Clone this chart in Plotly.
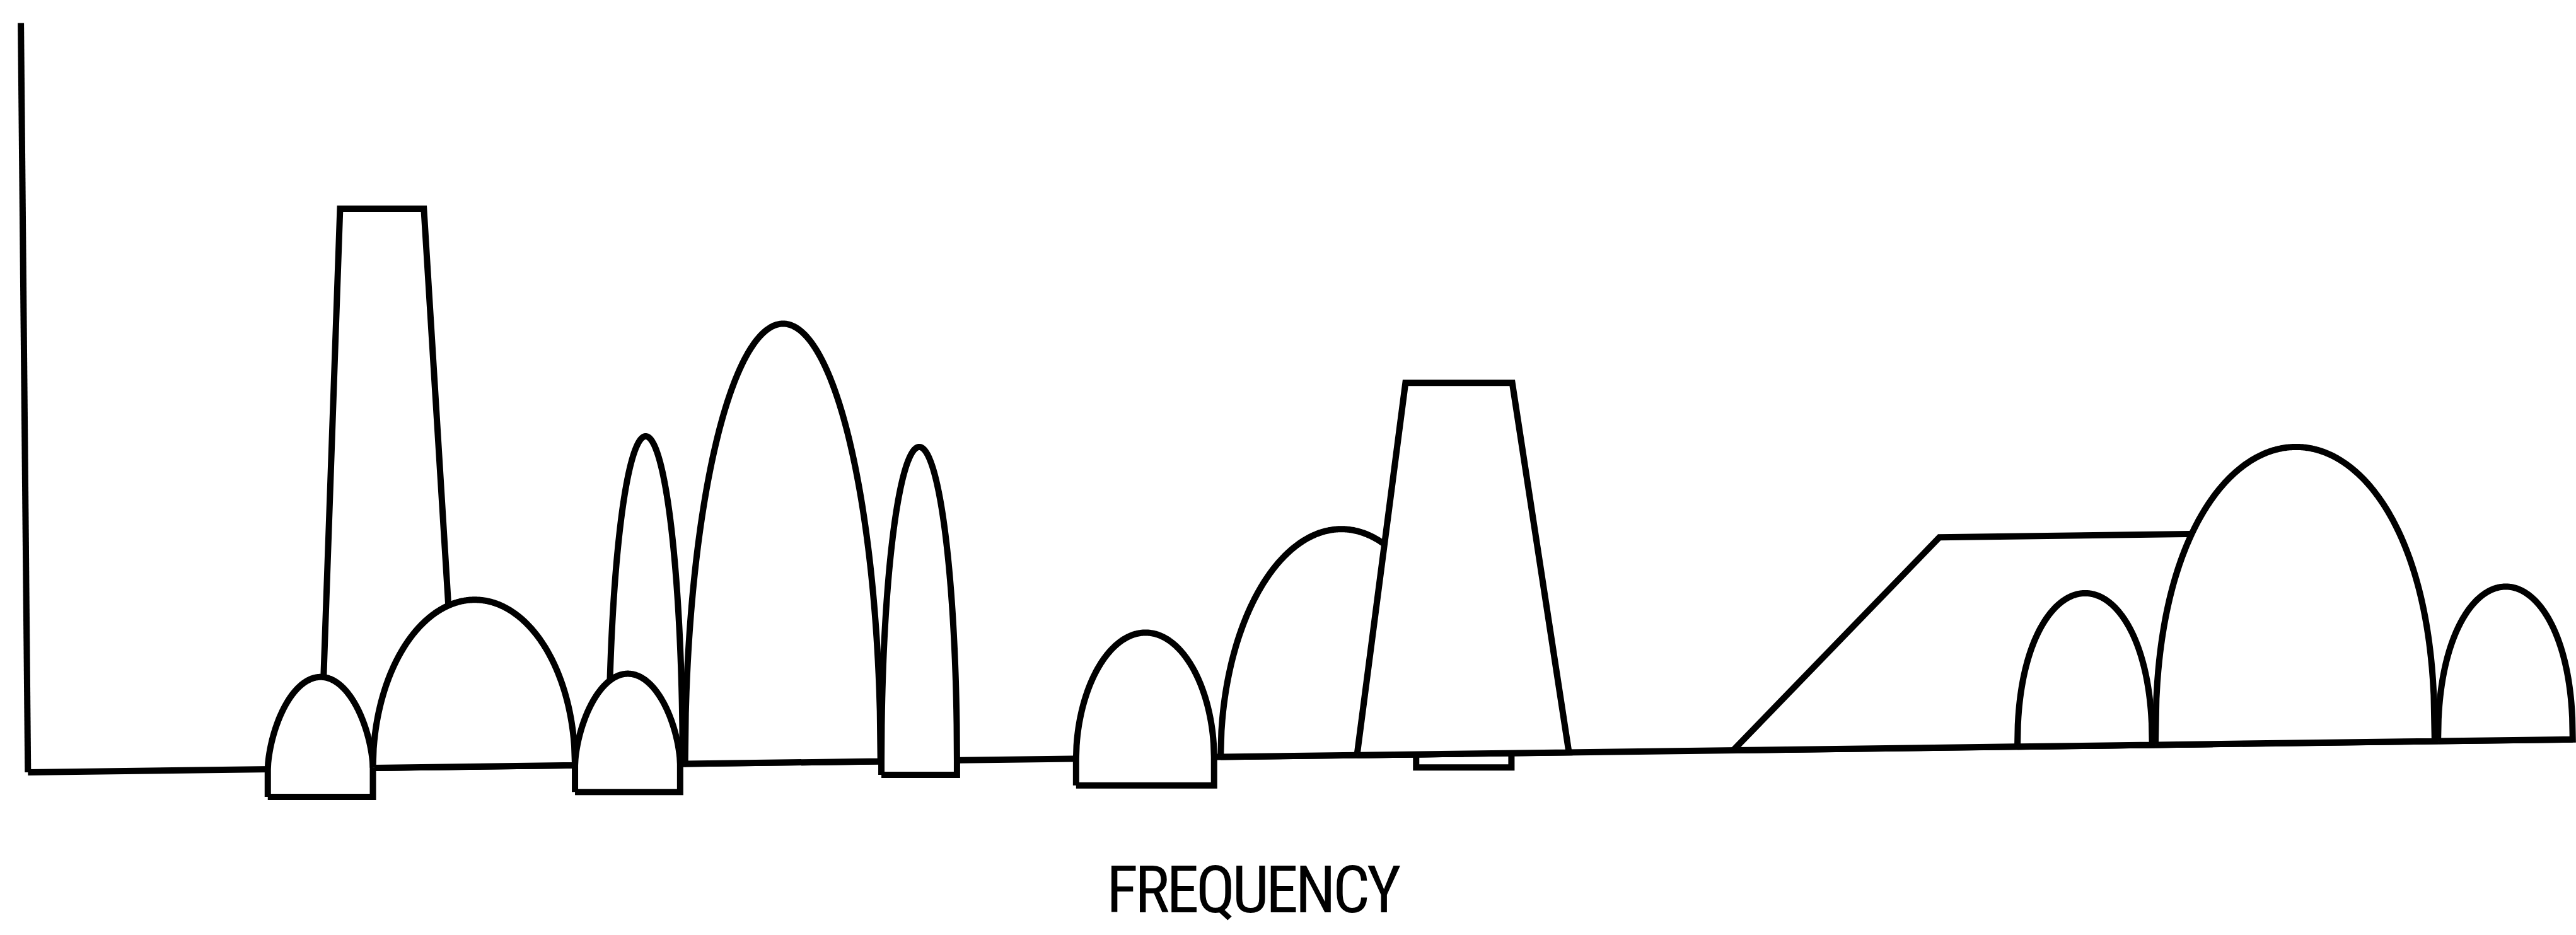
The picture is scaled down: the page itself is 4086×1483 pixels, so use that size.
import numpy as np
import plotly.graph_objects as go

# ---------------- data (frequency units, level units; level measured upward) ----------------
# vertical (level) axis line
axis_freq = [12.7, 17.0]
axis_level = [555.0, 99.0]

# sloping spectrum baseline (noise floor)
floor_freq = [17.0, 1566.0]
floor_level = [99.0, 119.0]

# arch-shaped carriers: left edge, right edge, peak level, bottom of box below floor (None = sits on floor),
# roundness exponent of the dome
arch_left = [163, 227, 350, 370.5, 417, 536.5, 655, 743, 1228, 1312, 1484]
arch_right = [227, 350, 414, 415.5, 536, 582.5, 739, 889, 1310, 1482, 1566]
arch_peak = [157, 204, 159, 303.5, 372, 297, 184, 247, 208, 297, 212]
arch_box_bottom = [84, None, 87, None, None, 97.5, 91, None, None, None, None]
arch_round = [0.62, 0.5, 0.62, 0.5, 0.5, 0.5, 0.52, 0.5, 0.45, 0.43, 0.45]

# trapezoid bands: [foot left, top left, top right, foot right], top level
trap1_freq = [195.0, 207.0, 258.0, 279.0]
trap1_top = 442.0
trap2_freq = [826.0, 855.5, 920.5, 955.0]
trap2_top = 336.0

# small notch below the floor under trapezoid 2
notch_freq = [862.0, 920.0]
notch_bottom = 102.0

# ramp band: foot, knee, end (hidden in big dome), levels at knee and end
ramp_freq = [1055.0, 1180.5, 1345.0]
ramp_level = [242.0, 244.2]

label_text = "FREQUENCY"

# ---------------- helpers ----------------
def floor_at(x):
    x = np.asarray(x, dtype=float)
    return np.interp(x, floor_freq, floor_level)

LW = 10
fig = go.Figure()

def add_poly(xs, ys, fill=True):
    fig.add_trace(go.Scatter(
        x=list(xs), y=list(ys), mode="lines",
        line=dict(color="black", width=LW, simplify=False),
        fill="toself" if fill else None, fillcolor="white",
        hoverinfo="skip", showlegend=False))

def arch_path(i):
    l, r = arch_left[i], arch_right[i]
    c, hw = (l + r) / 2.0, (r - l) / 2.0
    t = np.linspace(-1, 1, 301)
    xs = c + hw * t
    rel = (1 - np.clip(t ** 2, 0, 1)) ** arch_round[i]
    base = floor_at(xs)
    ys = base + (arch_peak[i] - floor_at(c)) * rel
    xs, ys = list(xs), list(ys)
    bb = arch_box_bottom[i]
    if bb is None:
        px = xs + [r, l]
        py = ys + [float(floor_at(r)), float(floor_at(l))]
    else:
        px = [l] + xs + [r, l]
        py = [bb] + ys + [bb, bb]
    return px, py

def draw_arch(i):
    px, py = arch_path(i)
    add_poly(px, py)

# baseline and axis
add_poly(floor_freq, floor_level, fill=False)
add_poly(axis_freq, axis_level, fill=False)

# left group
tx = trap1_freq
add_poly([tx[0], tx[1], tx[2], tx[3], tx[0]],
         [float(floor_at(tx[0])), trap1_top, trap1_top, float(floor_at(tx[3])), float(floor_at(tx[0]))])
for i in [3, 0, 1, 2, 4, 5, 6, 7]:
    draw_arch(i)

# trapezoid 2
tx = trap2_freq
add_poly([tx[0], tx[1], tx[2], tx[3], tx[0]],
         [float(floor_at(tx[0])), trap2_top, trap2_top, float(floor_at(tx[3])), float(floor_at(tx[0]))])
# notch
nx = notch_freq
add_poly([nx[0], nx[0], nx[1], nx[1]],
         [float(floor_at(nx[0])), notch_bottom, notch_bottom, float(floor_at(nx[1]))], fill=False)

# ramp
rx = ramp_freq
add_poly([rx[0], rx[1], rx[2], rx[2], rx[0]],
         [float(floor_at(rx[0])), ramp_level[0], ramp_level[1], float(floor_at(rx[2])), float(floor_at(rx[0]))])
for i in [8, 9, 10]:
    draw_arch(i)

fig.add_annotation(x=763, y=27.5,
                   text='<span style="letter-spacing:-5px;font-stretch:condensed">' + label_text + '</span>',
                   showarrow=False, borderpad=0,
                   font=dict(family="Noto Sans ExtraCondensed, Noto Sans Condensed, Roboto Condensed, "
                                    "DejaVu Sans Condensed, Liberation Sans Narrow, sans-serif",
                             size=104, color="black"),
                   xanchor="center", yanchor="middle")

fig.update_layout(
    width=4086, height=1483,
    margin=dict(l=0, r=0, t=0, b=0),
    paper_bgcolor="white", plot_bgcolor="white",
    xaxis=dict(range=[0, 1568], visible=False, fixedrange=True),
    yaxis=dict(range=[0, 569], visible=False, fixedrange=True),
    showlegend=False,
)
fig.write_html("out.html", config={"displayModeBar": False},
               post_script="document.body.style.margin='0px';document.body.style.overflow='hidden';")
